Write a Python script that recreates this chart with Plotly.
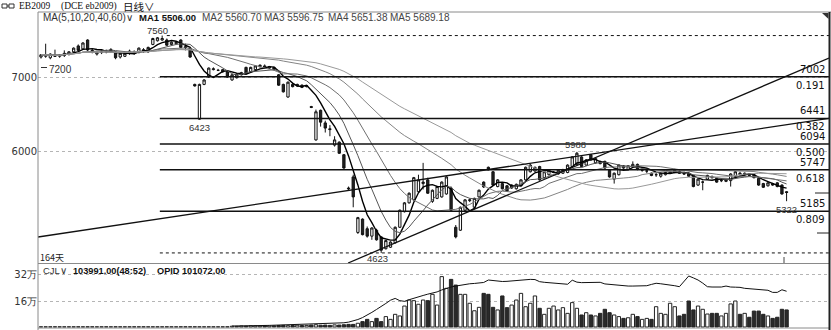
import numpy as np
import pandas as pd
import plotly.graph_objects as go

# ---------------- data ----------------
ohlc = [
    [7270, 7310, 7250, 7300], [7280, 7450, 7260, 7290], [7260, 7320, 7240, 7310], [7290, 7370, 7270, 7280],
    [7280, 7310, 7260, 7300], [7290, 7360, 7270, 7320], [7310, 7350, 7290, 7340], [7340, 7400, 7320, 7390],
    [7420, 7440, 7350, 7360], [7380, 7470, 7370, 7460], [7500, 7510, 7350, 7365], [7360, 7380, 7320, 7340],
    [7310, 7340, 7290, 7330], [7330, 7370, 7310, 7350], [7350, 7370, 7320, 7340], [7350, 7390, 7330, 7370],
    [7340, 7350, 7240, 7260], [7270, 7330, 7250, 7320], [7280, 7330, 7270, 7320], [7320, 7370, 7300, 7350],
    [7340, 7360, 7300, 7320], [7330, 7400, 7320, 7390], [7370, 7390, 7330, 7350], [7340, 7410, 7330, 7400],
    [7440, 7530, 7430, 7520], [7490, 7540, 7480, 7530], [7500, 7560, 7490, 7520], [7500, 7520, 7420, 7430],
    [7440, 7480, 7430, 7470], [7450, 7480, 7440, 7470], [7500, 7510, 7390, 7400], [7410, 7450, 7360, 7400],
    [7390, 7400, 7260, 7270], [6900, 6910, 6870, 6880], [6430, 6910, 6423, 6900], [6900, 6970, 6890, 6960],
    [7000, 7130, 6990, 7120], [7100, 7130, 7090, 7110], [7090, 7110, 7080, 7090], [7070, 7110, 7060, 7100],
    [7070, 7080, 6990, 7000], [6960, 7040, 6950, 7030], [6990, 7050, 6980, 7040], [7030, 7070, 7020, 7060],
    [7130, 7140, 7040, 7050], [7070, 7140, 7060, 7130], [7100, 7160, 7090, 7150], [7140, 7170, 7130, 7160],
    [7150, 7170, 7110, 7120], [7120, 7150, 7110, 7140], [7130, 7140, 7090, 7100], [7030, 7040, 6880, 6890],
    [6900, 6910, 6790, 6800], [6730, 6940, 6720, 6930], [6900, 6920, 6860, 6870], [6880, 6910, 6870, 6900],
    [6890, 6900, 6850, 6860], [6870, 6890, 6860, 6880], [6600, 6610, 6580, 6590], [6150, 6560, 6140, 6530],
    [6550, 6560, 6330, 6390], [6380, 6410, 6250, 6310], [6300, 6350, 6200, 6290], [6080, 6200, 6060, 6150],
    [6120, 6130, 5960, 5970], [5950, 5960, 5760, 5770], [5500, 5520, 5470, 5490], [5650, 5680, 5240, 5380],
    [4900, 5110, 4880, 5100], [5080, 5090, 4860, 4870], [4950, 4980, 4830, 4850], [4850, 4970, 4800, 4960],
    [4930, 4950, 4790, 4800], [4840, 4850, 4623, 4660], [4680, 4800, 4670, 4790], [4700, 4780, 4690, 4770],
    [4760, 4980, 4750, 4970], [4970, 5210, 4960, 5200], [5180, 5310, 5170, 5300], [5300, 5440, 5290, 5430],
    [5340, 5650, 5330, 5640], [5450, 5680, 5440, 5610], [5560, 5840, 5480, 5580], [5610, 5640, 5420, 5430],
    [5320, 5480, 5300, 5470], [5360, 5530, 5350, 5520], [5380, 5590, 5370, 5580], [5420, 5660, 5410, 5650],
    [5500, 5520, 5180, 5200], [4970, 5000, 4820, 4840], [4930, 5250, 4920, 5240], [5200, 5350, 5190, 5340],
    [5330, 5360, 5310, 5340], [5240, 5370, 5230, 5360], [5380, 5480, 5370, 5470], [5580, 5590, 5500, 5515],
    [5780, 5790, 5740, 5745], [5720, 5730, 5530, 5540], [5520, 5620, 5510, 5610], [5560, 5570, 5480, 5490],
    [5530, 5540, 5450, 5460], [5500, 5550, 5490, 5540], [5490, 5560, 5480, 5550], [5530, 5620, 5520, 5610],
    [5610, 5790, 5600, 5780], [5720, 5830, 5710, 5810], [5730, 5790, 5720, 5780], [5790, 5800, 5600, 5610],
    [5640, 5730, 5630, 5720], [5680, 5750, 5670, 5740], [5710, 5730, 5700, 5715], [5690, 5750, 5680, 5740],
    [5700, 5760, 5690, 5750], [5710, 5820, 5700, 5810], [5790, 5930, 5780, 5920], [5820, 5988, 5810, 5970],
    [5920, 5930, 5780, 5790], [5810, 5890, 5800, 5880], [5950, 5960, 5870, 5880], [5840, 5910, 5830, 5900],
    [5860, 5870, 5820, 5830], [5860, 5870, 5760, 5770], [5740, 5750, 5640, 5650], [5620, 5710, 5560, 5700],
    [5680, 5820, 5670, 5810], [5800, 5810, 5760, 5770], [5750, 5810, 5740, 5800], [5790, 5860, 5780, 5820],
    [5820, 5830, 5740, 5750], [5740, 5760, 5720, 5740], [5730, 5750, 5700, 5730], [5700, 5710, 5660, 5670],
    [5680, 5710, 5650, 5680], [5660, 5710, 5640, 5700], [5680, 5720, 5670, 5710], [5700, 5730, 5690, 5720],
    [5710, 5760, 5700, 5740], [5720, 5740, 5690, 5700], [5700, 5720, 5680, 5690], [5700, 5710, 5650, 5660],
    [5670, 5680, 5510, 5520], [5540, 5630, 5530, 5620], [5580, 5600, 5470, 5580], [5620, 5680, 5610, 5670],
    [5650, 5670, 5630, 5640], [5630, 5640, 5570, 5580], [5600, 5620, 5580, 5600], [5590, 5620, 5580, 5610],
    [5600, 5700, 5520, 5690], [5660, 5730, 5650, 5720], [5700, 5720, 5670, 5680], [5680, 5710, 5670, 5700],
    [5690, 5700, 5660, 5670], [5680, 5690, 5630, 5640], [5630, 5640, 5530, 5540], [5560, 5570, 5500, 5510],
    [5530, 5580, 5520, 5570], [5560, 5570, 5530, 5540], [5570, 5580, 5510, 5520], [5540, 5550, 5410, 5420],
    [5450, 5460, 5322, 5440],
]
opens = [r[0] for r in ohlc]
highs = [r[1] for r in ohlc]
lows = [r[2] for r in ohlc]
closes = [r[3] for r in ohlc]
days = list(range(len(ohlc)))

# volume in 万 (10k lots)
volume = ([0.1] * 41 +
          [0.5, 0.4, 0.6, 0.5, 0.7, 0.6, 0.5, 0.8, 0.6, 0.7, 0.9, 1.0, 0.8, 0.9, 1.1, 0.9, 1.0, 1.2, 1.4, 1.1, 1.2, 1.0, 1.3, 1.2, 1.4] +
          [1.6, 1.6, 2.3, 3.3, 4.7, 3.3, 5.3, 3.3, 6.4, 4.7] +
          [7.8, 6.8, 12.9, 16.6, 16.2, 14.0, 16.6, 16.2, 20.1, 13.5,
           31.0, 23.8, 29.3, 25.8, 20.1, 20.1, 14.6, 10.0, 12.1, 20.7,
           20.1, 12.1, 10.5, 19.1, 11.9, 13.5, 16.6, 20.7, 12.5, 14.6,
           19.1, 11.5, 7.8, 11.5, 12.9, 10.5, 11.9, 8.4, 15.0, 11.5,
           7.4, 8.8, 7.4, 6.8, 8.4, 10.9, 8.8, 7.4, 6.4, 5.3,
           5.7, 7.8, 6.4, 4.7, 5.3, 4.7, 12.5, 8.4, 7.8, 14.6,
           12.5, 6.8, 7.8, 16.0, 10.5, 12.9, 10.9, 8.0, 8.4, 8.4,
           6.8, 8.4, 14.2, 16.0, 7.8, 8.4, 6.0, 9.8, 9.8, 7.8,
           6.8, 5.3, 6.0, 10.9, 10.5])

# open interest (OPID) in 万, from day 41
oi_start = 41
open_interest = [0.6, 0.6, 0.7, 0.7, 0.8, 0.8, 0.9, 0.9, 1.0, 1.1,
                 1.2, 1.2, 1.3, 1.3, 1.4, 1.4, 1.5, 1.5, 1.6, 1.7,
                 1.8, 2.0, 2.1, 2.3, 2.6, 3.0, 3.6, 4.6, 5.8, 7.2,
                 9.0, 10.8, 12.5, 14.5, 16.5, 17.6, 16.2, 15.8, 16.8, 17.8,
                 18.6, 19.4, 20.2, 20.8, 21.6, 22.8, 23.8, 24.6, 25.2, 25.8,
                 26.3, 26.6, 26.8, 26.9, 27.4, 28.9, 28.6, 27.9, 28.0, 28.1,
                 28.3, 28.6, 29.0, 29.3, 29.3, 29.2, 27.9, 27.5, 27.2, 26.9,
                 26.6, 26.4, 26.3, 28.8, 27.6, 27.3, 27.4, 27.5, 27.4, 27.5,
                 26.5, 26.2, 25.8, 25.4, 25.3, 25.2, 25.2, 25.3, 25.1, 25.4,
                 26.2, 26.9, 26.6, 26.3, 26.0, 25.4, 24.8, 28.0, 31.4, 30.2,
                 28.9, 27.0, 24.8, 24.6, 24.4, 24.6, 25.2, 24.6, 24.5, 24.4,
                 23.8, 23.6, 23.5, 23.4, 23.0, 22.6, 21.3, 21.3, 22.9, 22.0]

ma_periods = [5, 10, 20, 40, 60]
ma_colors = ["#000000", "#555555", "#707070", "#858585", "#9a9a9a"]
ma_widths = [1.4, 1, 1, 1, 1]
ma_legend = ["MA1 5506.00", "MA2 5560.70", "MA3 5596.75", "MA4 5651.38", "MA5 5689.18"]

fib_prices = [7002, 6441, 6094, 5747, 5185]
fib_ratios = ["0.191", "0.382", "0.500", "0.618", "0.809"]
fib_start = 25.5
high_price, high_day = 7560, 26
low_price, low_day = 4623, 73
trend_lines = [[(-0.64, 4838), (169.1, 6441)], [(65.9, 4487), (169.1, 7257)]]
price_marks = [("7560", 25.0, 7560, 5), ("6423", 34, 6423, -8), ("4623", 72.3, 4623, -6),
               ("5988", 114.6, 5988, 7), ("5322", 160, 5322, -8)]

y_ticks = [7000, 6000]
vol_ticks = [32, 16]
vol_ticklabels = ["32万", "16万"]

# ---------------- layout geometry ----------------
W, H = 831, 330
L, R, T, B = 38, 2, 13, 2
PW, PH = W - L - R, H - T - B


def px(x):
    return (x - L) / PW


def py(y):
    return (H - B - y) / PH


X_RANGE = [-0.644, 169.1]
Y_RANGE = [4487, 7865]
V_RANGE = [-0.615, 38.15]

fig = go.Figure()

# MA lines
cs = pd.Series(closes, dtype=float)
for n, col, w in zip(ma_periods, ma_colors, ma_widths):
    fig.add_trace(go.Scatter(x=days, y=cs.rolling(n, min_periods=1).mean(), mode="lines",
                             line=dict(color=col, width=w), hoverinfo="skip",
                             xaxis="x", yaxis="y"))

# candles
fig.add_trace(go.Candlestick(x=days, open=opens, high=highs, low=lows, close=closes,
                             increasing=dict(line=dict(color="#111111", width=1), fillcolor="#ffffff"),
                             decreasing=dict(line=dict(color="#111111", width=1), fillcolor="#222222"),
                             whiskerwidth=0, hoverinfo="skip", xaxis="x", yaxis="y"))

# volume bars
vol_fill = ["#ffffff" if c >= o else "#2a2a2a" for o, c in zip(opens, closes)]
fig.add_trace(go.Bar(x=days, y=volume, marker=dict(color=vol_fill, line=dict(color="#222222", width=1)),
                     width=0.72, hoverinfo="skip", xaxis="x2", yaxis="y2"))
fig.add_trace(go.Scatter(x=list(range(oi_start, oi_start + len(open_interest))), y=open_interest,
                         mode="lines", line=dict(color="#111111", width=1), hoverinfo="skip",
                         xaxis="x2", yaxis="y2"))

shapes = []
# fib levels
for p in fib_prices:
    shapes.append(dict(type="line", xref="x", yref="y", x0=fib_start, x1=X_RANGE[1], y0=p, y1=p,
                       line=dict(color="#111111", width=1.5)))
# high / low dashed lines
shapes.append(dict(type="line", xref="x", yref="y", x0=high_day + 1, x1=X_RANGE[1], y0=high_price, y1=high_price,
                   line=dict(color="#111111", width=1, dash="dot")))
shapes.append(dict(type="line", xref="x", yref="y", x0=fib_start, x1=X_RANGE[1], y0=low_price, y1=low_price,
                   line=dict(color="#111111", width=1, dash="dot")))
# trend lines
for (a, b) in trend_lines:
    shapes.append(dict(type="line", xref="x", yref="y", x0=a[0], y0=a[1], x1=b[0], y1=b[1],
                       line=dict(color="#111111", width=1.3)))
# frames
gray = "#8a8a8a"
shapes += [
    dict(type="line", xref="paper", yref="paper", x0=0, x1=px(W), y0=py(12), y1=py(12), line=dict(color=gray, width=1)),
    dict(type="line", xref="paper", yref="paper", x0=0, x1=0, y0=py(12), y1=py(H), line=dict(color=gray, width=1)),
    dict(type="line", xref="paper", yref="paper", x0=0, x1=px(829), y0=py(263.5), y1=py(263.5), line=dict(color=gray, width=1)),
    dict(type="line", xref="paper", yref="paper", x0=0, x1=px(829), y0=py(328), y1=py(328), line=dict(color=gray, width=1)),
    dict(type="line", xref="paper", yref="paper", x0=px(829.5), x1=px(829.5), y0=py(12), y1=py(330), line=dict(color="#222222", width=2)),
    dict(type="path", xref="paper", yref="paper",
         path=f"M {px(822)} {py(13)} L {px(828.5)} {py(13)} L {px(828.5)} {py(19)} Z",
         fillcolor="#333333", line=dict(width=0)),
    dict(type="line", xref="paper", yref="paper", x0=px(815), x1=px(829), y0=py(193), y1=py(193), line=dict(color="#222222", width=1)),
    dict(type="line", xref="paper", yref="paper", x0=px(817), x1=px(829), y0=py(233), y1=py(233), line=dict(color="#222222", width=1)),
    dict(type="line", xref="paper", yref="paper", x0=px(784), x1=px(784), y0=py(257), y1=py(263), line=dict(color="#444444", width=1)),
    dict(type="line", xref="paper", yref="paper", x0=px(41), x1=px(47), y0=py(67.5), y1=py(67.5), line=dict(color="#333333", width=1)),
    # header icon: two small linked boxes
    dict(type="rect", xref="paper", yref="paper", x0=px(2), x1=px(7), y0=py(8), y1=py(4), line=dict(color="#333333", width=1)),
    dict(type="rect", xref="paper", yref="paper", x0=px(9), x1=px(14), y0=py(8), y1=py(4), line=dict(color="#333333", width=1)),
    dict(type="line", xref="paper", yref="paper", x0=px(7), x1=px(9), y0=py(6), y1=py(6), line=dict(color="#333333", width=1)),
]

ann = []
NUM = "Liberation Sans"


def text(x, y, s, size=9, color="#222222", anchor="left", bold=False, family=NUM, yanchor="middle"):
    ann.append(dict(xref="paper", yref="paper", x=px(x), y=py(y), text=(f"<b>{s}</b>" if bold else s),
                    showarrow=False, xanchor=anchor, yanchor=yanchor,
                    font=dict(size=size, color=color, family=family)))


# header
text(17, 6, "EB2009", size=9.5, family="Liberation Serif", color="#111111")
text(59, 6, "(DCE eb2009)", size=9.5, family="Liberation Serif", color="#111111")
text(121, 6, "日线∨", size=10.5, family="Noto Sans CJK SC", color="#111111")

# MA legend
text(41, 17.5, "MA(5,10,20,40,60)∨", size=10, family=NUM, color="#333333")
ma_x = [137, 200, 262, 326, 388]
for i, (s, x) in enumerate(zip(ma_legend, ma_x)):
    text(x, 17.5, s, size=10 if i else 9.5, family=NUM, color="#111111" if i == 0 else "#444444", bold=(i == 0))

# volume legend
text(41, 270.5, "CJL∨", size=9.5, family=NUM, color="#333333")
text(71, 270.5, "103991.00(48:52)", size=9.2, family=NUM, color="#111111", bold=True)
text(155, 270.5, "OPID 101072.00", size=9.2, family=NUM, color="#111111", bold=True)

# 164天
text(38, 257, "164天", size=9, family="Noto Sans CJK SC", color="#222222")
text(47, 69, "7200", size=10, color="#333333")

# fib labels
for p, r in zip(fib_prices, fib_ratios):
    ann.append(dict(xref="paper", yref="y", x=1, y=p, text=str(p), showarrow=False, xanchor="right",
                    yanchor="bottom", xshift=-2, yshift=0, font=dict(size=10, color="#111111", family="DejaVu Sans")))
    ann.append(dict(xref="paper", yref="y", x=1, y=p, text=r, showarrow=False, xanchor="right",
                    yanchor="top", xshift=-2, yshift=-1, font=dict(size=10, color="#111111", family="DejaVu Sans")))

# price marks
for s, d, p, sh in price_marks:
    ann.append(dict(xref="x", yref="y", x=d, y=p, text=s, showarrow=False, xanchor="center",
                    yanchor="middle", yshift=sh, font=dict(size=9.5, color="#333333", family=NUM)))

fig.update_layout(
    width=W, height=H, margin=dict(l=L, r=R, t=T, b=B),
    paper_bgcolor="white", plot_bgcolor="white", showlegend=False,
    xaxis=dict(domain=[0, 1], range=X_RANGE, showticklabels=False, showgrid=False, zeroline=False,
               rangeslider=dict(visible=False), anchor="y", fixedrange=True),
    yaxis=dict(domain=[py(263), 1], range=Y_RANGE, tickvals=y_ticks, ticktext=[str(v) for v in y_ticks],
               showgrid=True, gridcolor="#b5b5b5", griddash="dot", gridwidth=1, zeroline=False,
               tickfont=dict(size=10, color="#333333", family="DejaVu Sans"), ticks="", anchor="x"),
    xaxis2=dict(domain=[0, 1], range=X_RANGE, showticklabels=False, showgrid=False, zeroline=False,
                anchor="y2", matches="x"),
    yaxis2=dict(domain=[0, py(265)], range=V_RANGE, tickvals=vol_ticks, ticktext=vol_ticklabels,
                showgrid=True, gridcolor="#b5b5b5", griddash="dot", gridwidth=1, zeroline=False,
                tickfont=dict(size=10, color="#333333", family="DejaVu Sans"), ticks="", anchor="x2"),
    shapes=shapes, annotations=ann, bargap=0.3,
)

fig.write_html("out.html")
